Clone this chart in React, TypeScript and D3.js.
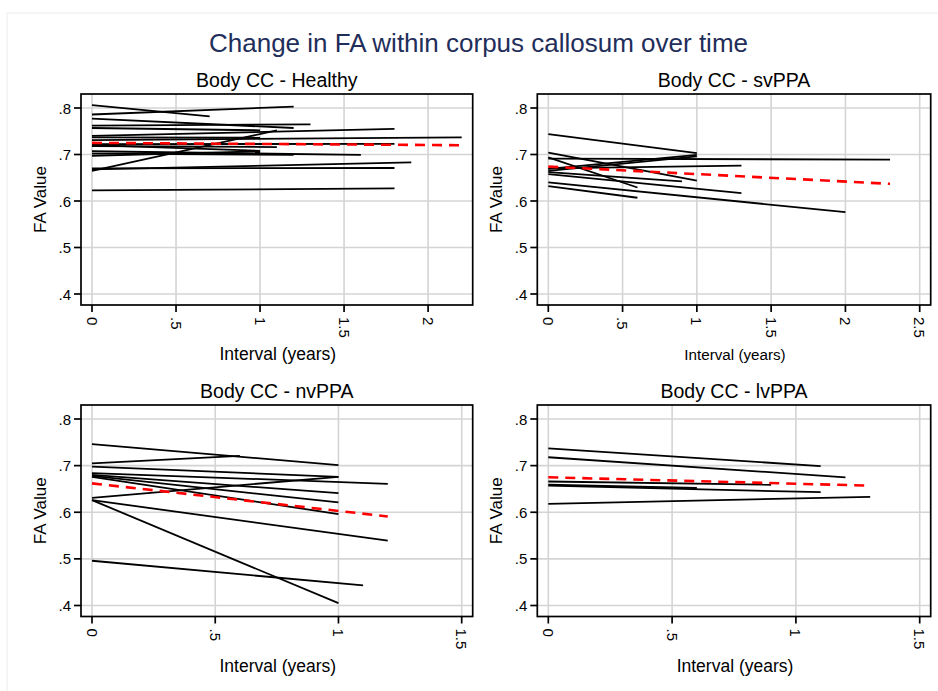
import React, { useEffect, useRef } from 'react';
import * as d3 from 'd3';

type Pt = [number, number];

// each subject: [interval, FA] at first and last scan
const healthyLines: Pt[][] = [
  [[0, 0.806], [0.7, 0.782]],
  [[0, 0.786], [1.2, 0.803]],
  [[0, 0.777], [1.2, 0.757]],
  [[0, 0.762], [1.3, 0.765]],
  [[0, 0.757], [1.0, 0.752]],
  [[0, 0.740], [1.8, 0.755]],
  [[0, 0.737], [1.0, 0.736]],
  [[0, 0.731], [2.2, 0.737]],
  [[0, 0.722], [1.8, 0.723]],
  [[0, 0.720], [1.0, 0.708]],
  [[0, 0.718], [1.1, 0.716]],
  [[0, 0.707], [1.6, 0.699]],
  [[0, 0.702], [1.2, 0.699]],
  [[0, 0.697], [1.0, 0.707]],
  [[0, 0.668], [1.9, 0.683]],
  [[0, 0.665], [1.1, 0.752]],
  [[0, 0.670], [1.8, 0.671]],
  [[0, 0.623], [1.8, 0.627]],
];
const healthyMean: Pt[] = [[0, 0.725], [2.2, 0.720]];

const svLines: Pt[][] = [
  [[0, 0.744], [1.0, 0.703]],
  [[0, 0.704], [1.0, 0.644]],
  [[0, 0.694], [0.6, 0.629]],
  [[0, 0.691], [2.3, 0.689]],
  [[0, 0.669], [1.0, 0.699]],
  [[0, 0.670], [1.3, 0.676]],
  [[0, 0.662], [0.9, 0.642]],
  [[0, 0.665], [1.0, 0.696]],
  [[0, 0.658], [1.3, 0.617]],
  [[0, 0.640], [2.0, 0.576]],
  [[0, 0.632], [0.6, 0.607]],
];
const svMean: Pt[] = [[0, 0.674], [2.3, 0.637]];

const nvLines: Pt[][] = [
  [[0, 0.746], [1.0, 0.701]],
  [[0, 0.705], [0.6, 0.721]],
  [[0, 0.698], [1.0, 0.676]],
  [[0, 0.684], [1.2, 0.661]],
  [[0, 0.680], [1.0, 0.641]],
  [[0, 0.678], [1.0, 0.621]],
  [[0, 0.676], [1.0, 0.596]],
  [[0, 0.631], [1.0, 0.676]],
  [[0, 0.626], [1.2, 0.539]],
  [[0, 0.626], [1.0, 0.405]],
  [[0, 0.496], [1.1, 0.443]],
];
const nvMean: Pt[] = [[0, 0.662], [1.2, 0.591]];

const lvLines: Pt[][] = [
  [[0, 0.737], [1.1, 0.699]],
  [[0, 0.718], [1.2, 0.675]],
  [[0, 0.666], [0.9, 0.659]],
  [[0, 0.659], [0.6, 0.652]],
  [[0, 0.657], [1.1, 0.643]],
  [[0, 0.618], [1.3, 0.633]],
];
const lvMean: Pt[] = [[0, 0.675], [1.3, 0.657]];

const yTicks = [0.4, 0.5, 0.6, 0.7, 0.8];
const healthyTicks = [0, 0.5, 1, 1.5, 2];
const svTicks = [0, 0.5, 1, 1.5, 2, 2.5];
const nvTicks = [0, 0.5, 1, 1.5];
const lvTicks = [0, 0.5, 1, 1.5];

const panels = [
  { title: 'Body CC - Healthy', lines: healthyLines, mean: healthyMean, ticks: healthyTicks, xMax: 2.2, x0: 81, x1: 472.7, y0: 94, y1: 305, xTitleSize: 17.5 },
  { title: 'Body CC - svPPA', lines: svLines, mean: svMean, ticks: svTicks, xMax: 2.5, x0: 537.3, x1: 930.7, y0: 94, y1: 305, xTitleSize: 15.2 },
  { title: 'Body CC - nvPPA', lines: nvLines, mean: nvMean, ticks: nvTicks, xMax: 1.5, x0: 81, x1: 472.7, y0: 405, y1: 616.5, xTitleSize: 17.5 },
  { title: 'Body CC - lvPPA', lines: lvLines, mean: lvMean, ticks: lvTicks, xMax: 1.5, x0: 537.3, x1: 930.7, y0: 405, y1: 616.5, xTitleSize: 17.5 },
];

const W = 938;
const H = 691;
const font = '"Liberation Sans", Arial, Helvetica, sans-serif';
const fmt = (v: number) => (v === 0 ? '0' : String(v).replace(/^0\./, '.'));

export default function App() {
  const ref = useRef<SVGSVGElement>(null);

  useEffect(() => {
    const svg = d3.select(ref.current);
    svg.selectAll('*').remove();

    svg.append('rect').attr('width', W).attr('height', H).attr('fill', '#fff');
    svg.append('rect')
      .attr('x', 7).attr('y', 13).attr('width', W).attr('height', H)
      .attr('fill', 'none').attr('stroke', '#ececec');

    svg.append('text')
      .attr('x', 478.5).attr('y', 52)
      .attr('text-anchor', 'middle')
      .attr('font-family', font).attr('font-size', 26)
      .attr('fill', '#1f2e5a')
      .text('Change in FA within corpus callosum over time');

    panels.forEach((p) => {
      const g = svg.append('g');
      const x = d3.scaleLinear().domain([0, p.xMax]).range([p.x0 + 11, p.x1 - 11]);
      const y = d3.scaleLinear().domain([0.4, 0.8]).range([p.y1 - 11, p.y0 + 14]);
      const line = d3.line<Pt>().x(d => x(d[0])).y(d => y(d[1]));

      // grid
      g.selectAll('line.hgrid').data(yTicks).enter().append('line')
        .attr('x1', p.x0).attr('x2', p.x1)
        .attr('y1', d => y(d)).attr('y2', d => y(d))
        .attr('stroke', '#d4d4d4').attr('stroke-width', 1.6);
      g.selectAll('line.vgrid').data(p.ticks).enter().append('line')
        .attr('x1', d => x(d)).attr('x2', d => x(d))
        .attr('y1', p.y0).attr('y2', p.y1)
        .attr('stroke', '#d4d4d4').attr('stroke-width', 1.6);

      // subject lines
      g.selectAll('path.subj').data(p.lines).enter().append('path')
        .attr('d', d => line(d))
        .attr('fill', 'none').attr('stroke', '#000').attr('stroke-width', 1.8);

      // fitted mean
      g.append('path')
        .attr('d', line(p.mean))
        .attr('fill', 'none').attr('stroke', '#ff0000')
        .attr('stroke-width', 2.6).attr('stroke-dasharray', '10,7');

      // frame
      g.append('rect')
        .attr('x', p.x0).attr('y', p.y0)
        .attr('width', p.x1 - p.x0).attr('height', p.y1 - p.y0)
        .attr('fill', 'none').attr('stroke', '#000').attr('stroke-width', 1.7);

      // y ticks
      g.selectAll('line.yt').data(yTicks).enter().append('line')
        .attr('x1', p.x0 - 7).attr('x2', p.x0)
        .attr('y1', d => y(d)).attr('y2', d => y(d))
        .attr('stroke', '#000').attr('stroke-width', 1.7);
      g.selectAll('text.yt').data(yTicks).enter().append('text')
        .attr('x', p.x0 - 10).attr('y', d => y(d))
        .attr('text-anchor', 'end').attr('dominant-baseline', 'central')
        .attr('font-family', font).attr('font-size', 15)
        .text(d => fmt(d));

      // x ticks
      g.selectAll('line.xt').data(p.ticks).enter().append('line')
        .attr('x1', d => x(d)).attr('x2', d => x(d))
        .attr('y1', p.y1).attr('y2', p.y1 + 7)
        .attr('stroke', '#000').attr('stroke-width', 1.7);
      g.selectAll('text.xt').data(p.ticks).enter().append('text')
        .attr('transform', d => `translate(${x(d)},${p.y1 + 12}) rotate(90)`)
        .attr('text-anchor', 'start').attr('dominant-baseline', 'central')
        .attr('font-family', font).attr('font-size', 15)
        .text(d => fmt(d));

      // titles
      g.append('text')
        .attr('x', (p.x0 + p.x1) / 2).attr('y', p.y0 - 7)
        .attr('text-anchor', 'middle')
        .attr('font-family', font).attr('font-size', 19.5)
        .text(p.title);
      g.append('text')
        .attr('x', (p.x0 + p.x1) / 2 + 1).attr('y', p.y1 + 49)
        .attr('text-anchor', 'middle').attr('dominant-baseline', 'central')
        .attr('font-family', font).attr('font-size', p.xTitleSize)
        .text('Interval (years)');
      g.append('text')
        .attr('transform', `translate(${p.x0 - 41},${(p.y0 + p.y1) / 2}) rotate(-90)`)
        .attr('text-anchor', 'middle').attr('dominant-baseline', 'central')
        .attr('font-family', font).attr('font-size', 17)
        .text('FA Value');
    });
  }, []);

  return (
    <div style={{ position: 'absolute', left: 0, top: 0 }}>
      <svg ref={ref} width={W} height={H} style={{ display: 'block' }}></svg>
    </div>
  );
}
